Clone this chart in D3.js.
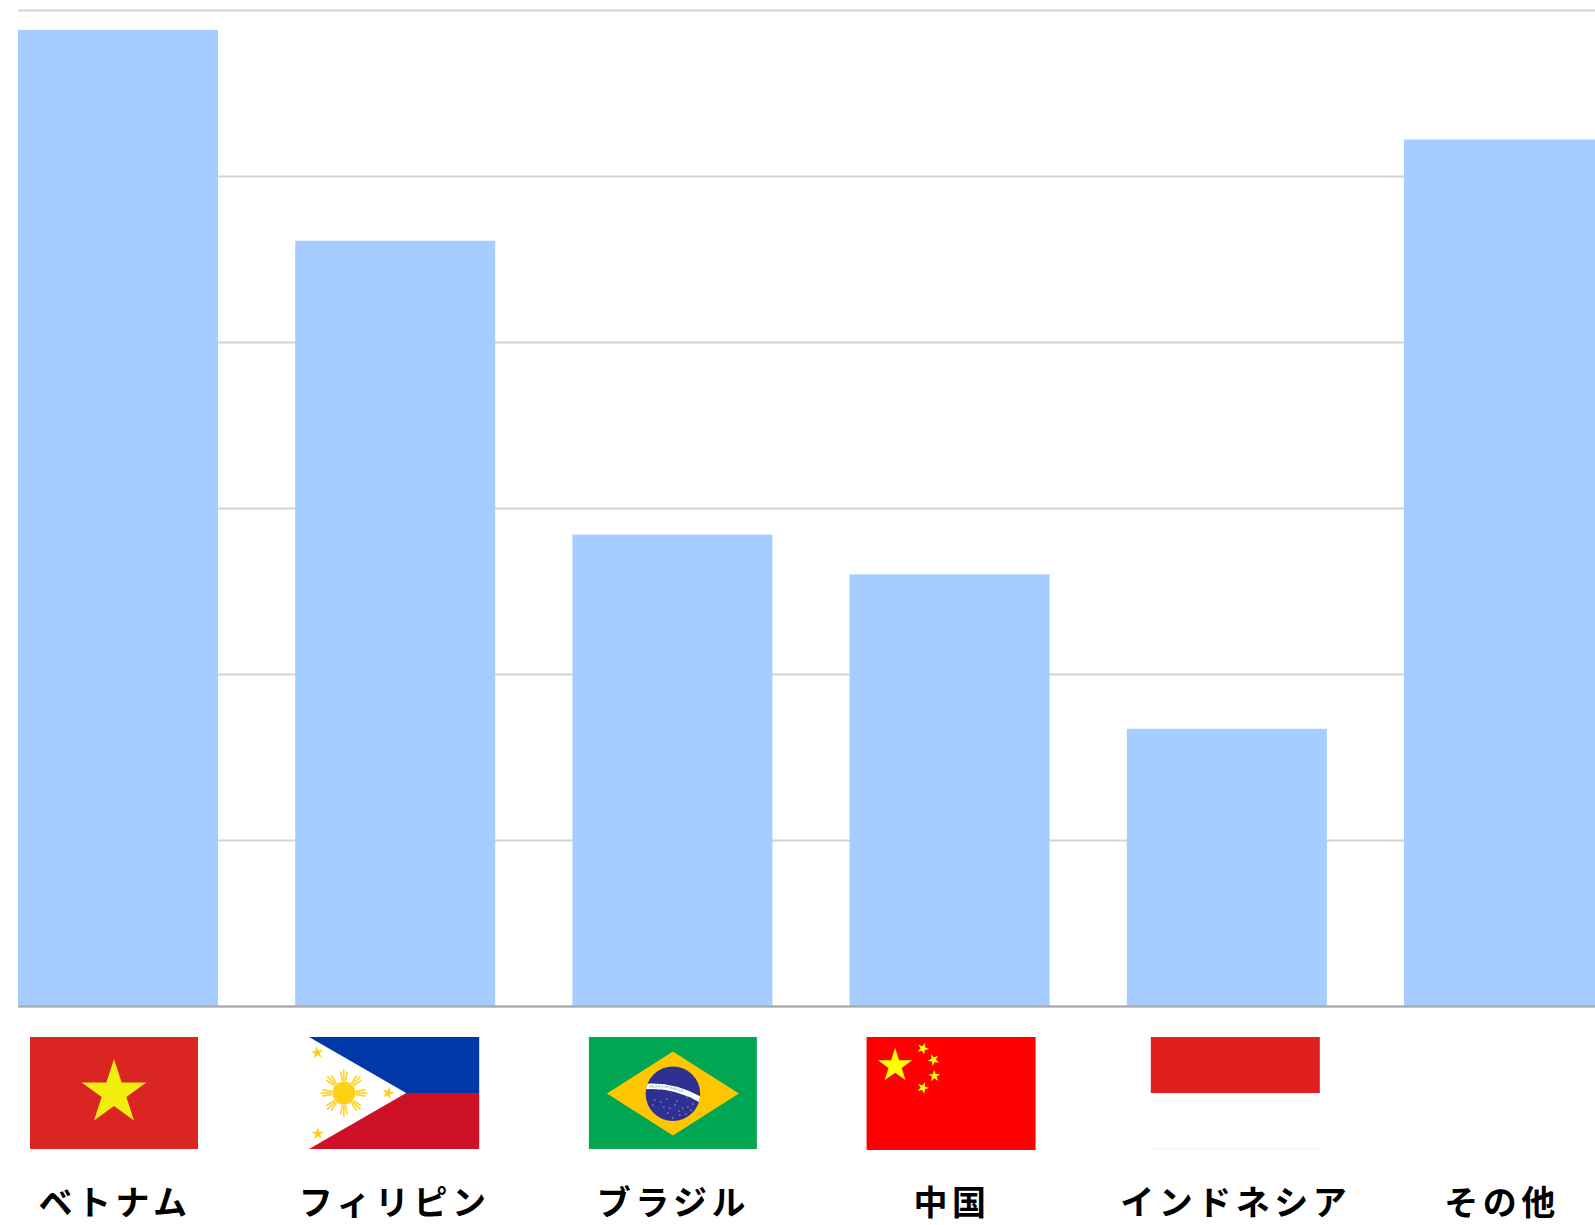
<!DOCTYPE html>
<html>
<head>
<meta charset="utf-8">
<style>
  html, body { margin: 0; padding: 0; background: #fff; overflow: hidden; }
  svg { display: block; }
</style>
<script src="https://cdn.jsdelivr.net/npm/d3@7"></script>
</head>
<body>
<div id="chart_container"></div>
<script>
const categories = ["ベトナム", "フィリピン", "ブラジル", "中国", "インドネシア", "その他"];
const values = [588, 461, 284, 260, 167, 522];
const gridTicks = [0, 100, 200, 300, 400, 500, 600];

const BAR_COLOR = "#a5cdff";
const GRID_COLOR = "#d3d3d3";
const AXIS_COLOR = "#a6a6a6";

const width = 1595;
const height = 1225;
const baseline = 1006;
const flagTop = 1037;
const flagW = 168;
const flagH = 112;

// labels and flags do not sit exactly on the bar centres in the original
const labelNudge = [-3, -0.5, 1, 2.5, 9, -2];
const flagNudge = [-4, -2, 0.5, 1, 8];

let x = d3.scaleBand().domain(categories).range([18, 1604]).paddingInner(0.2785).paddingOuter(0);
let y = d3.scaleLinear().domain([0, 600]).range([baseline, 10]);

let svg = d3
  .select("#chart_container")
  .append("svg")
  .attr("width", width)
  .attr("height", height);

// grid
let grid = svg
  .append("g")
  .attr("transform", "translate(18,0)")
  .call(d3.axisLeft(y).tickValues(gridTicks).tickSize(-(width - 18)).tickFormat(""));
grid.select(".domain").remove();
grid.selectAll("line").attr("stroke", GRID_COLOR).attr("stroke-width", 2);

// bars
svg
  .append("g")
  .selectAll("rect")
  .data(values)
  .join("rect")
  .attr("x", (d, i) => x(categories[i]))
  .attr("y", (d) => y(d))
  .attr("width", x.bandwidth())
  .attr("height", (d) => baseline - y(d))
  .attr("fill", BAR_COLOR);

// category axis
let axis = svg
  .append("g")
  .attr("transform", "translate(0," + baseline + ")")
  .call(d3.axisBottom(x).tickSize(0).tickPadding(209).tickSizeOuter(0));
axis.select(".domain").attr("stroke", AXIS_COLOR).attr("stroke-width", 2);
axis
  .selectAll("text")
  .attr("dx", (d, i) => labelNudge[i])
  .attr("dy", 0)
  .attr("font-family", "'Noto Sans CJK JP', sans-serif")
  .attr("font-size", 34)
  .attr("font-weight", 700)
  .attr("letter-spacing", 4.5)
  .attr("fill", "#000");

function starPath(cx, cy, r, rot) {
  let pts = [];
  for (let i = 0; i < 10; i++) {
    let rr = i % 2 == 0 ? r : r * 0.382;
    let a = ((rot || 0) - 90 + i * 36) * Math.PI / 180;
    pts.push([cx + rr * Math.cos(a), cy + rr * Math.sin(a)]);
  }
  return "M" + pts.map((p) => p.join(",")).join("L") + "Z";
}

function addRect(g, rx, ry, w, h, fill) {
  g.append("rect").attr("x", rx).attr("y", ry).attr("width", w).attr("height", h).attr("fill", fill);
}

function drawVietnam(g) {
  addRect(g, 0, 0, flagW, flagH, "#da2522");
  g.append("path").attr("d", starPath(84, 56, 34)).attr("fill", "#f2ee10");
}

function drawPhilippines(g) {
  const YEL = "#fcd116";
  addRect(g, 0, 0, 170, 56, "#0038a8");
  addRect(g, 0, 56, 170, 56, "#ce1126");
  g.append("path").attr("d", "M-1,-0.6L97,56L-1,112.6Z").attr("fill", "#fff");
  g.append("circle").attr("cx", 34.7).attr("cy", 56).attr("r", 11.5).attr("fill", YEL);
  d3.range(8).forEach(function (i) {
    let a = i * 45;
    [-3.2, 0, 3.2].forEach(function (o) {
      g.append("line")
        .attr("x1", 12).attr("y1", o * 0.5)
        .attr("x2", o == 0 ? 23.5 : 21.5).attr("y2", o)
        .attr("transform", "translate(34.7,56) rotate(" + a + ")")
        .attr("stroke", YEL)
        .attr("stroke-width", 1.5);
    });
  });
  [[8, 15.7, -8], [79, 56, 15], [8.6, 96.7, 0]].forEach(function (s) {
    g.append("path").attr("d", starPath(s[0], s[1], 6.5, s[2])).attr("fill", YEL);
  });
}

function drawBrazil(g) {
  addRect(g, 0, 0, flagW, flagH, "#00a651");
  g.append("path").attr("d", "M84,14.5L150,56.5L84,98.5L18,56.5Z").attr("fill", "#fec600");
  g.append("circle").attr("cx", 84).attr("cy", 56.7).attr("r", 27.3).attr("fill", "#2e3192");
  g.append("clipPath").attr("id", "globe").append("circle").attr("cx", 84).attr("cy", 56.7).attr("r", 27.3);
  g.append("path")
    .attr("id", "motto")
    .attr("d", "M56,49.5Q86,47.5 112,63")
    .attr("fill", "none")
    .attr("stroke", "#fff")
    .attr("stroke-width", 5.5)
    .attr("clip-path", "url(#globe)");
  g.append("path").attr("id", "mottoText").attr("d", "M60,50.6Q86,48.7 109,62.8").attr("fill", "none");
  g.append("text")
    .attr("font-family", "'DejaVu Sans', sans-serif")
    .attr("font-size", 2.9)
    .attr("letter-spacing", 0.1)
    .attr("fill", "#2aa866")
    .append("textPath")
    .attr("href", "#mottoText")
    .text("ORDEM E PROGRESSO");
  const dots = [[70, 52], [66, 63], [72, 65], [78, 62], [75, 70], [81, 71], [86, 68], [90, 74], [94, 71], [99, 70], [104, 67], [102, 73], [97, 77], [91, 78], [84, 81], [64, 68], [79, 76], [88, 64], [98, 60]];
  dots.forEach(function (d) {
    g.append("circle").attr("cx", d[0]).attr("cy", d[1]).attr("r", 0.6).attr("fill", "#fff");
  });
}

function drawChina(g) {
  addRect(g, 0, 0, 169, 113, "#ff0000");
  g.append("path").attr("d", starPath(28.5, 28.8, 18)).attr("fill", "#ffff00");
  [[56.3, 11.5, 23], [67, 22.8, 46], [67.7, 39, 70], [56.3, 50.7, 21]].forEach(function (s) {
    g.append("path").attr("d", starPath(s[0], s[1], 6.2, s[2])).attr("fill", "#ffff00");
  });
}

function drawIndonesia(g) {
  addRect(g, 0, 0, 169, 56, "#e01f1f");
  addRect(g, 0, 111.5, 169, 0.8, "#f2f2f2");
}

// no flag for その他
const flagDrawers = [drawVietnam, drawPhilippines, drawBrazil, drawChina, drawIndonesia];

flagDrawers.forEach(function (draw, i) {
  let cx = x(categories[i]) + x.bandwidth() / 2 + flagNudge[i];
  let g = svg.append("g").attr("transform", "translate(" + (cx - flagW / 2) + "," + flagTop + ")");
  draw(g);
});
</script>
</body>
</html>
